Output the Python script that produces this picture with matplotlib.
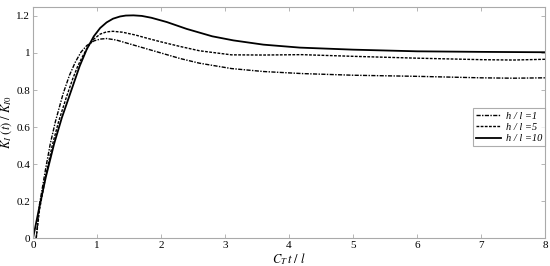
import matplotlib.pyplot as plt

plt.rcParams['font.family'] = ['Liberation Serif', 'DejaVu Serif']
plt.rcParams['mathtext.fontset'] = 'stix'

# h/l = 1 (dash-dot)
x1 = [0.05, 0.1, 0.2, 0.27, 0.35, 0.47, 0.57, 0.66, 0.75, 0.84, 0.95, 1.05, 1.15, 1.3,
      1.5, 1.75, 2.0, 2.3, 2.6, 3.1, 3.6, 4.2, 5.0, 6.0, 7.0, 7.5, 8.0]
k1 = [0.0, 0.18, 0.38, 0.51, 0.63, 0.78, 0.88, 0.95, 1.005, 1.04, 1.065, 1.075, 1.078, 1.07,
      1.05, 1.025, 1.0, 0.97, 0.945, 0.916, 0.90, 0.889, 0.88, 0.874, 0.866, 0.864, 0.866]

# h/l = 5 (dashed)
x5 = [0.05, 0.1, 0.2, 0.3, 0.4, 0.52, 0.62, 0.7, 0.78, 0.86, 0.95, 1.05, 1.15, 1.25, 1.4,
      1.6, 1.8, 2.0, 2.3, 2.6, 3.1, 3.6, 4.2, 5.0, 6.0, 7.0, 7.5, 8.0]
k5 = [0.0, 0.15, 0.34, 0.5, 0.63, 0.76, 0.86, 0.93, 0.985, 1.035, 1.075, 1.102, 1.114, 1.117, 1.112,
      1.097, 1.078, 1.06, 1.035, 1.012, 0.99, 0.989, 0.991, 0.982, 0.972, 0.964, 0.962, 0.966]

# h/l = 10 (solid)
x10 = [0.0, 0.1, 0.2, 0.33, 0.45, 0.58, 0.73, 0.84, 0.95, 1.05, 1.15, 1.25, 1.36, 1.45, 1.57,
       1.7, 1.85, 2.09, 2.4, 2.8, 3.13, 3.6, 4.17, 5.0, 6.0, 7.0, 8.0]
k10 = [0.0, 0.17, 0.33, 0.51, 0.65, 0.78, 0.93, 1.02, 1.09, 1.135, 1.165, 1.185, 1.197, 1.202, 1.203,
       1.2, 1.19, 1.167, 1.13, 1.09, 1.068, 1.045, 1.029, 1.018, 1.009, 1.006, 1.004]

labels = ['h / l =1', 'h / l =5', 'h / l =10']
xticks = [0, 1, 2, 3, 4, 5, 6, 7, 8]
yticks = [0, 0.2, 0.4, 0.6, 0.8, 1.0, 1.2]
yticklabels = ['0', '0.2', '0.4', '0.6', '0.8', '1', '1.2']

fig = plt.figure(figsize=(5.5, 2.66), dpi=100)
ax = fig.add_axes([0.06, 0.104, 0.931, 0.871])

ax.plot(x1, k1, color='black', lw=1.0, dashes=[3, 1, 1, 1], label=labels[0])
ax.plot(x5, k5, color='black', lw=1.0, dashes=[2, 1], label=labels[1])
ax.plot(x10, k10, color='black', lw=1.3, label=labels[2])

ax.set_xlim(0, 8)
ax.set_ylim(0, 1.25)
ax.set_xticks(xticks)
ax.set_xticklabels([str(t) for t in xticks])
ax.set_yticks(yticks)
ax.set_yticklabels(yticklabels)
ax.tick_params(direction='in', top=True, right=True, labelsize=8, color='#aaaaaa',
               length=3, width=0.6, pad=2)
for s in ax.spines.values():
    s.set_color('#aaaaaa')
    s.set_linewidth(0.8)

ax.set_xlabel(r'$C_T\,t\ /\ l$', fontsize=9, labelpad=1)
ax.set_ylabel(r'$K_I\ (t)\ /\ K_{I0}$', fontsize=9, labelpad=2)

leg = ax.legend(loc='upper right', bbox_to_anchor=(1.0, 0.562),
                prop={'style': 'italic', 'size': 7.5}, frameon=True, fancybox=False,
                handlelength=2.4, handletextpad=0.4, borderpad=0.3, labelspacing=0.2,
                borderaxespad=0.0)
leg.get_frame().set_edgecolor('#999999')
leg.get_frame().set_linewidth(0.8)

fig.savefig('out.png', dpi=100)
